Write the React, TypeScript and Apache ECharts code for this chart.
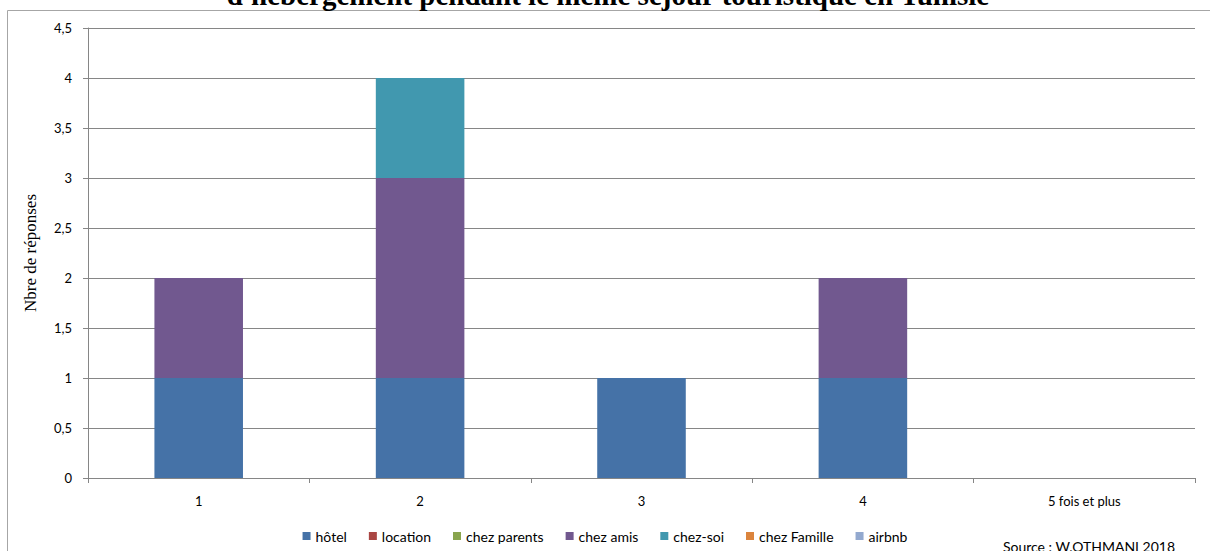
import React, { useEffect, useRef } from "react";
import * as echarts from "echarts";

const categories = ["1", "2", "3", "4", "5 fois et plus"];
const seriesNames = ["hôtel", "location", "chez parents", "chez amis", "chez-soi", "chez Famille", "airbnb"];
const hotel = [1, 1, 1, 1, 0];
const location = [0, 0, 0, 0, 0];
const chezParents = [0, 0, 0, 0, 0];
const chezAmis = [1, 2, 0, 1, 0];
const chezSoi = [0, 1, 0, 0, 0];
const chezFamille = [0, 0, 0, 0, 0];
const airbnb = [0, 0, 0, 0, 0];
const colors = ["#4572A7", "#AA4643", "#89A54E", "#71588F", "#4198AF", "#DB843D", "#93A9CF"];
const titleText = "d'hébergement pendant le même séjour touristique en Tunisie";
const yAxisName = "Nbre de réponses";
const sourceText = "Source : W.OTHMANI 2018";

export default function App() {
  const ref = useRef<HTMLDivElement>(null);
  useEffect(() => {
    if (!ref.current) return;
    const chart = echarts.init(ref.current, null, { renderer: "svg" });
    const data = [hotel, location, chezParents, chezAmis, chezSoi, chezFamille, airbnb];
    const font = "Lato, 'Liberation Sans', sans-serif";
    chart.setOption({
      animation: false,
      color: colors,
      grid: { left: 88, right: 15, top: 28, bottom: 73 },
      legend: {
        data: seriesNames,
        icon: "rect",
        itemWidth: 8,
        itemHeight: 8,
        itemGap: 22,
        left: "center",
        top: 524,
        textStyle: { fontFamily: font, fontSize: 14, color: "#000" },
      },
      xAxis: {
        type: "category",
        data: categories,
        axisLine: { lineStyle: { color: "#868686", width: 1 } },
        axisTick: { show: true, length: 5, lineStyle: { color: "#868686" } },
        axisLabel: { fontFamily: font, fontSize: 13, color: "#000", margin: 16 },
      },
      yAxis: {
        type: "value",
        min: 0,
        max: 4.5,
        interval: 0.5,
        name: yAxisName,
        nameLocation: "middle",
        nameGap: 49,
        nameRotate: 90,
        nameTextStyle: { fontFamily: "'Liberation Serif', 'Times New Roman', serif", fontSize: 17, color: "#000" },
        axisLine: { show: true, lineStyle: { color: "#868686", width: 1 } },
        axisTick: { show: true, length: 5, lineStyle: { color: "#868686" } },
        axisLabel: {
          fontFamily: font,
          fontSize: 13,
          color: "#000",
          margin: 16,
          formatter: (v: number) => String(v).replace(".", ","),
        },
        splitLine: { lineStyle: { color: "#868686", width: 1 } },
      },
      series: seriesNames.map((name, i) => ({
        name,
        type: "bar",
        stack: "total",
        barWidth: "40%",
        data: data[i],
      })),
      graphic: [
        {
          type: "rect",
          shape: { x: 7.5, y: 10.5, width: 1220, height: 560 },
          style: { fill: "none", stroke: "#A6A6A6", lineWidth: 1 },
          silent: true,
          z: -1,
        },
        {
          type: "text",
          x: 608,
          y: -5,
          style: {
            text: titleText,
            fontFamily: "'Liberation Serif', 'Times New Roman', serif",
            fontWeight: "bold",
            fontSize: 29,
            fill: "#000",
            align: "center",
            verticalAlign: "middle",
          },
        },
        {
          type: "text",
          x: 1089,
          y: 546,
          style: {
            text: sourceText,
            fontFamily: font,
            fontSize: 14,
            fill: "#000",
            align: "center",
            verticalAlign: "middle",
          },
        },
      ],
    });
    return () => chart.dispose();
  }, []);
  return <div ref={ref} style={{ position: "absolute", left: 0, top: 0, width: 1210, height: 551 }} />;
}
